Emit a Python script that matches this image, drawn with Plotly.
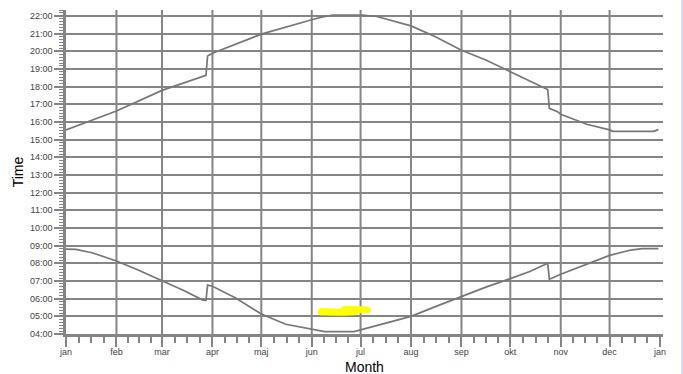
import pandas as pd
import plotly.graph_objects as go

YEAR = 2011
TIME_DAY = "2000-01-01"

month_labels = ["jan", "feb", "mar", "apr", "maj", "jun", "jul",
                "aug", "sep", "okt", "nov", "dec", "jan"]

# Sunset (upper curve)
sunset_dates = ["01-01", "01-17", "02-01", "03-01", "03-28", "03-29", "04-01", "05-01",
                "05-24", "06-01", "06-07", "06-14", "07-02", "07-11", "08-01", "08-16",
                "09-01", "09-16", "10-01", "10-22", "10-24", "10-25", "10-30", "11-01",
                "11-09", "11-17", "12-01", "12-03", "12-28", "12-31"]
sunset_times = ["15:33", "16:06", "16:37", "17:47", "18:38", "19:44", "19:53", "20:58",
                "21:36", "21:47", "21:56", "22:03", "22:03", "21:58", "21:26", "20:49",
                "20:03", "19:30", "18:50", "17:53", "17:50", "16:46", "16:35", "16:26",
                "16:08", "15:52", "15:33", "15:28", "15:28", "15:34"]

# Sunrise (lower curve)
sunrise_dates = ["01-01", "01-07", "01-17", "02-01", "02-14", "03-01", "03-15", "03-26",
                 "03-28", "03-29", "04-01", "04-15", "05-01", "05-16", "06-01", "06-09",
                 "06-27", "06-29", "07-16", "08-01", "08-16", "09-01", "09-16", "10-01",
                 "10-13", "10-24", "10-25", "11-01", "11-15", "12-01", "12-14", "12-21",
                 "12-31"]
sunrise_times = ["08:48", "08:47", "08:36", "08:08", "07:38", "07:02", "06:26", "05:55",
                 "05:54", "06:46", "06:42", "06:03", "05:08", "04:33", "04:16", "04:08",
                 "04:08", "04:11", "04:35", "05:00", "05:33", "06:08", "06:39", "07:08",
                 "07:32", "08:00", "07:06", "07:23", "07:52", "08:27", "08:45", "08:50",
                 "08:50"]

# Yellow highlighter scribble
mark_dates = ["06-05", "06-05", "06-06", "06-19", "06-20", "07-01", "07-06", "07-07",
              "07-07", "07-06", "07-01", "06-28", "06-06"]
mark_times = ["05:08", "05:20", "05:25", "05:26", "05:32", "05:33", "05:30", "05:26",
              "05:16", "05:13", "05:12", "05:06", "05:05"]


def xd(md):
    return f"{YEAR}-{md}"


def yt(hm):
    return f"{TIME_DAY} {hm}"


month_starts = pd.date_range(f"{YEAR}-01-01", f"{YEAR + 1}-01-01", freq="MS")
minor_vals = []
for a, b in zip(month_starts[:-1], month_starts[1:]):
    for k in (1, 2, 3):
        minor_vals.append((a + (b - a) * k / 4).strftime("%Y-%m-%d %H:%M"))

GRID = "#858585"
LINE = "#777777"

fig = go.Figure()
fig.add_trace(go.Scatter(
    x=[xd(d) for d in mark_dates], y=[yt(t) for t in mark_times],
    fill="toself", fillcolor="#ffff00", mode="lines",
    line=dict(color="#ffff00", width=1, shape="spline"), hoverinfo="skip"))
fig.add_trace(go.Scatter(
    x=[xd(d) for d in sunset_dates], y=[yt(t) for t in sunset_times],
    mode="lines", line=dict(color=LINE, width=1.7)))
fig.add_trace(go.Scatter(
    x=[xd(d) for d in sunrise_dates], y=[yt(t) for t in sunrise_times],
    mode="lines", line=dict(color=LINE, width=1.7)))

# vertical month grid lines (not at the final january)
for d in month_starts[1:-1]:
    fig.add_shape(type="line", xref="x", yref="paper",
                  x0=d.strftime("%Y-%m-%d"), x1=d.strftime("%Y-%m-%d"), y0=0, y1=1,
                  line=dict(color=GRID, width=2), layer="below")

# thin lavender frame edge at the right of the page
fig.add_shape(type="line", xref="paper", yref="paper", x0=1.0318, x1=1.0318,
              y0=-0.13, y1=1.04, line=dict(color="#c4c4f4", width=1.2))

tick_font = dict(family="Liberation Sans, Arial, sans-serif", size=9, color="#444444")
title_font = dict(family="Liberation Sans, Arial, sans-serif", size=14, color="#000000")

fig.add_annotation(text="Month", xref="paper", yref="paper", x=0.5, y=-40 / 324,
                   xanchor="center", yanchor="bottom", showarrow=False,
                   font=title_font, borderpad=0, yshift=-2)

fig.update_layout(
    width=683, height=374,
    margin=dict(l=66, r=20, t=10, b=40, autoexpand=False),
    paper_bgcolor="white", plot_bgcolor="white",
    showlegend=False,
    xaxis=dict(
        type="date", automargin=False,
        range=[f"{YEAR}-01-01", f"{YEAR + 1}-01-02 20:00"],
        tickmode="array",
        tickvals=[d.strftime("%Y-%m-%d") for d in month_starts],
        ticktext=month_labels,
        showgrid=False, zeroline=False,
        showline=True, linecolor=GRID, linewidth=3,
        ticks="outside", ticklen=10, tickwidth=2, tickcolor=GRID,
        tickfont=tick_font, ticklabelstandoff=-3,
        minor=dict(tickmode="array", tickvals=minor_vals, ticks="outside",
                   ticklen=6, tickwidth=1.5, tickcolor=GRID, showgrid=False),
    ),
    yaxis=dict(
        type="date", automargin=False,
        range=[yt("04:00"), yt("22:20")],
        tickformat="%H:%M",
        dtick=3600000, tick0=yt("04:00"),
        showgrid=True, gridcolor=GRID, gridwidth=2,
        zeroline=False,
        showline=True, linecolor=GRID, linewidth=2.5,
        ticks="outside", ticklen=9, tickwidth=2, tickcolor=GRID,
        tickfont=tick_font,
        minor=dict(dtick=600000, tick0=yt("04:00"), ticks="outside",
                   ticklen=4, tickwidth=1.2, tickcolor=GRID, showgrid=False),
        title=dict(text="Time", font=title_font, standoff=4),
    ),
)

fig.write_html("out.html", config={"displayModeBar": False},
               post_script="document.body.style.margin='0px';document.body.style.overflow='hidden';")
